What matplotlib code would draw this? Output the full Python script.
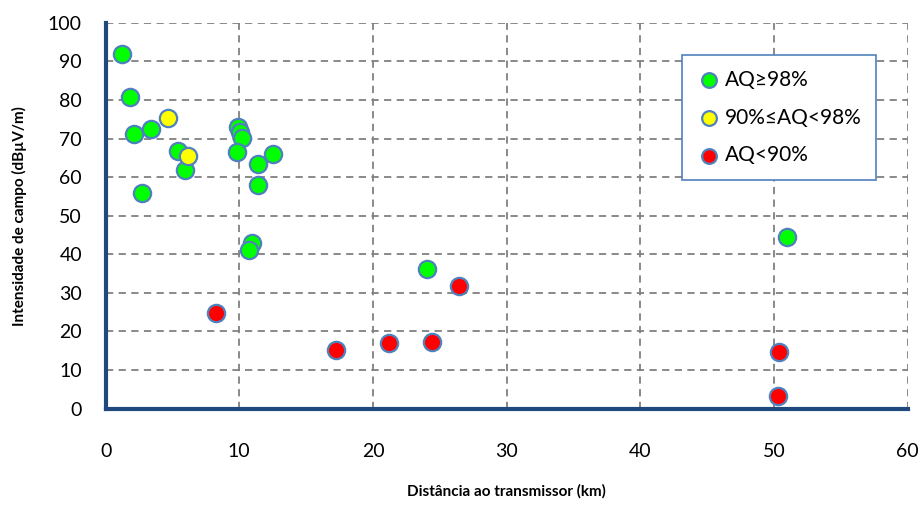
import matplotlib
matplotlib.use('Agg')
import matplotlib.pyplot as plt

# dados: distância (km) e intensidade de campo (dBµV/m)
dist_verde = [1.23, 1.82, 2.12, 3.37, 2.70, 5.44, 5.92, 9.93, 10.05, 10.18, 9.81,
              11.40, 12.54, 11.40, 10.97, 10.75, 24.02, 50.94]
campo_verde = [91.9, 80.7, 71.2, 72.5, 55.8, 66.8, 61.8, 73.1, 71.8, 70.1, 66.4,
               63.4, 65.9, 57.9, 43.0, 41.1, 36.1, 44.4]

dist_amarelo = [4.69, 6.19]
campo_amarelo = [75.4, 65.5]

dist_vermelho = [8.23, 17.21, 26.45, 21.22, 24.44, 50.36, 50.27]
campo_vermelho = [24.7, 15.2, 31.9, 16.9, 17.4, 14.8, 3.4]

rotulos = ['AQ≥98%', '90%≤AQ<98%', 'AQ<90%']

plt.rcParams['font.family'] = ['Lato', 'DejaVu Sans']

fig = plt.figure(figsize=(9.22, 5.07), dpi=100)
ax = fig.add_axes([0.1145, 0.194, 0.8701, 0.761])

borda = '#4F81BD'
estilo = dict(s=155, edgecolors=borda, linewidths=1.6, zorder=3)
ax.scatter(dist_verde, campo_verde, c='#00FF00', label=rotulos[0], **estilo)
ax.scatter(dist_amarelo, campo_amarelo, c='#FFFF00', label=rotulos[1], **estilo)
ax.scatter(dist_vermelho, campo_vermelho, c='#FF0000', label=rotulos[2], **estilo)

ax.set_xlim(0, 60)
ax.set_ylim(0, 100)
ax.set_xticks(range(0, 61, 10))
ax.set_yticks(range(0, 101, 10))
ax.tick_params(axis='both', length=0, labelsize=14)
ax.tick_params(axis='x', pad=25)
ax.tick_params(axis='y', pad=17)

ax.grid(True, color='#808080', linestyle=(0, (4, 3)), linewidth=1.3, zorder=0)
ax.set_axisbelow(True)

for lado in ['top', 'right']:
    ax.spines[lado].set_visible(False)
for lado in ['left', 'bottom']:
    ax.spines[lado].set_color('#1F497D')
    ax.spines[lado].set_linewidth(3)
    ax.spines[lado].set_zorder(4)

ax.set_xlabel('Distância ao transmissor (km)', fontsize=11, fontweight='bold', labelpad=17)
ax.set_ylabel('Intensidade de campo (dBµV/m)', fontsize=11, fontweight='bold', labelpad=15)

leg = ax.legend(loc='upper left', bbox_to_anchor=(0.719, 0.916), fontsize=15,
                frameon=True, fancybox=False, markerscale=0.85, handletextpad=0.15,
                borderpad=0.7, labelspacing=0.85, handlelength=1.2, borderaxespad=0)
leg.get_frame().set_edgecolor(borda)
leg.get_frame().set_linewidth(1.2)
leg.get_frame().set_alpha(1)

fig.savefig('out.png', dpi=100)
